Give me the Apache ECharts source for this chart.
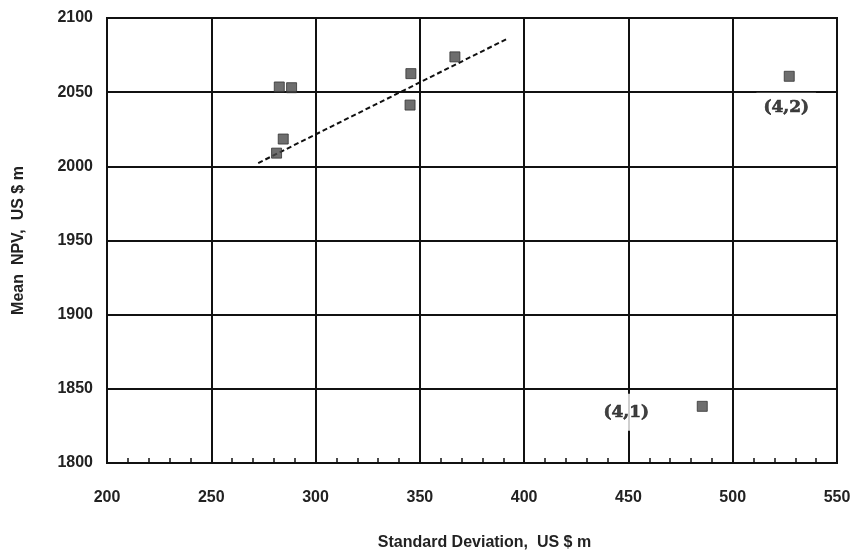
<!DOCTYPE html>
<html><head><meta charset="utf-8">
<script src="https://cdn.jsdelivr.net/npm/echarts@6/dist/echarts.min.js"></script>
<style>html,body{margin:0;padding:0;background:#fff}#c{width:857px;height:560px}</style>
</head><body><div id="c"></div>
<script>
const stdDev = [282.6, 288.5, 284.5, 281.3, 345.7, 345.3, 366.8, 527.1, 485.4];
const meanNPV = [2053.5, 2053, 2018.4, 2008.9, 2062.5, 2041.3, 2073.8, 2060.7, 1838.2];
const pointLabels = ['', '', '', '', '', '', '', '(4,2)', '(4,1)'];
const trendX = [272.5, 391.9];
const trendY = [2002.2, 2086];
const xTicks = [200, 250, 300, 350, 400, 450, 500, 550];
const yTicks = [1800, 1850, 1900, 1950, 2000, 2050, 2100];

const labelOffsets = {'(4,2)': [-3, 31], '(4,1)': [-76, 6]};
const labelPad = {'(4,2)': [6, 7], '(4,1)': [10, 4]};

const pts = stdDev.map((x, i) => ({value: [x, meanNPV[i]]}));
const labelPts = [];
stdDev.forEach((x, i) => {
  const t = pointLabels[i];
  if (t) {
    labelPts.push({
      value: [x, meanNPV[i]],
      label: {
        show: true, position: 'inside', formatter: t, offset: labelOffsets[t], padding: labelPad[t],
        backgroundColor: '#fff', color: '#111', fontFamily: 'DejaVu Serif', fontWeight: 'bold',
        fontSize: 17, textBorderColor: '#111', textBorderWidth: 0.6
      }
    });
  }
});

const chart = echarts.init(document.getElementById('c'), null, {renderer: 'canvas'});
chart.setOption({
  animation: false,
  backgroundColor: '#fff',
  grid: {left: 107, right: 20, top: 18, bottom: 97, show: true, borderColor: '#111', borderWidth: 2},
  xAxis: {
    type: 'value', min: xTicks[0], max: xTicks[xTicks.length - 1], interval: 50,
    name: 'Standard Deviation,  US $ m', nameLocation: 'middle', nameGap: 72,
    nameTextStyle: {fontFamily: 'Liberation Sans', fontWeight: 'bold', fontSize: 16, color: '#222', padding: [0, 0, 0, 25]},
    axisLine: {show: true, lineStyle: {color: '#111', width: 2}},
    axisTick: {show: false},
    minorTick: {show: true, splitNumber: 5, length: -5, lineStyle: {color: '#111', width: 1.5}},
    axisLabel: {margin: 27, fontFamily: 'Liberation Sans', fontWeight: 'bold', fontSize: 16, color: '#222'},
    splitLine: {show: true, lineStyle: {color: '#111', width: 2}}
  },
  yAxis: {
    type: 'value', min: yTicks[0], max: yTicks[yTicks.length - 1], interval: 50,
    name: 'Mean  NPV,  US $ m', nameLocation: 'middle', nameGap: 80,
    nameTextStyle: {fontFamily: 'Liberation Sans', fontWeight: 'bold', fontSize: 16, color: '#222'},
    axisLine: {show: true, lineStyle: {color: '#111', width: 2}},
    axisTick: {show: false},
    axisLabel: {margin: 14, fontFamily: 'Liberation Sans', fontWeight: 'bold', fontSize: 16, color: '#222',
      formatter: v => String(v)},
    splitLine: {show: true, lineStyle: {color: '#111', width: 2}}
  },
  series: [
    {
      type: 'line', data: trendX.map((x, i) => [x, trendY[i]]), symbol: 'none',
      lineStyle: {color: '#111', width: 2, type: [5, 3]}, z: 2
    },
    {
      type: 'scatter', data: labelPts, symbol: 'circle', symbolSize: 1, z: 3, silent: true,
      itemStyle: {color: 'rgba(0,0,0,0)'}
    },
    {
      type: 'scatter', data: pts, symbol: 'rect', symbolSize: 10,
      itemStyle: {color: '#4a4a4a', borderColor: '#333', borderWidth: 1}, z: 4
    }
  ]
});
</script></body></html>
